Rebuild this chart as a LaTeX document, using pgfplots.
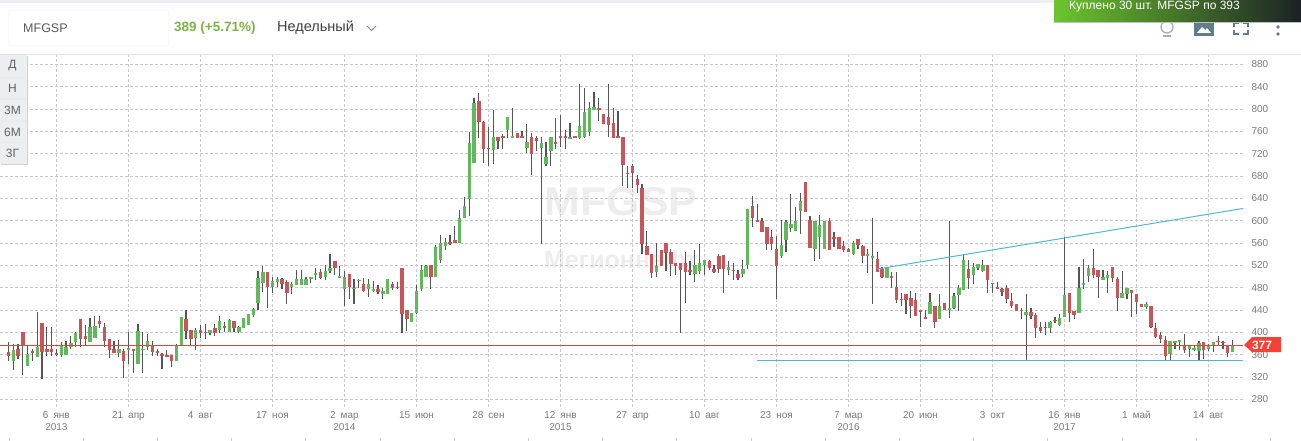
\documentclass[border=0pt]{standalone}
\usepackage{fontspec}
\setmainfont{Liberation Sans}
\usepackage{pgfplots}
\usepackage{pgfplotstable}
\pgfplotsset{compat=1.18}
\definecolor{candlegreen}{HTML}{62B85C}
\definecolor{candlered}{HTML}{C8555A}
\definecolor{wick}{HTML}{555555}
\definecolor{gridgray}{HTML}{C9C9C9}
\definecolor{ticktext}{HTML}{7A7A7A}
\definecolor{trend}{HTML}{58B4CE}
\definecolor{lastline}{HTML}{D9483F}
\definecolor{tag}{HTML}{F44336}
\definecolor{btn}{HTML}{ECEFF1}
\definecolor{icon}{HTML}{607D8B}
\definecolor{gain}{HTML}{7CB342}
\definecolor{toastl}{HTML}{6CC52D}
\definecolor{toastm}{HTML}{5F8A33}
\definecolor{toastr}{HTML}{1C2126}
\newcommand{\fs}[1]{\fontsize{#1}{#1}\selectfont}

% week (0 = 6 jan 2013), body low, body high, wick low, wick high
\pgfplotstableread{
w bl bh wl wh
-9 349 368 333 380
-6 340 362 340 375
-4 356 374 356 436
1 359 376 356 383
2 359 374 359 384
3 373 381 371 393
4 383 399 374 401
7 383 409 383 426
8 390 411 390 429
13 363 370 356 386
15 368 372 343 401
17 343 402 343 415
18 369 371 327 401
19 374 384 368 397
25 349 377 349 379
26 377 427 377 427
29 390 404 368 408
32 399 404 395 404
34 404 420 399 429
36 401 422 401 424
38 401 410 399 411
39 408 426 408 426
40 413 433 413 433
41 431 442 427 444
42 453 497 440 510
43 488 508 472 519
45 481 492 470 499
46 491 496 482 500
49 482 487 469 491
50 485 496 484 512
51 485 496 484 512
52 484 496 484 500
53 496 500 489 500
54 503 507 494 516
56 500 510 494 521
57 510 516 507 541
59 498 501 498 519
60 478 500 448 510
62 478 480 450 496
63 492 494 480 496
65 478 487 464 496
66 475 478 473 492
68 469 475 460 480
69 469 496 469 496
74 419 435 419 435
75 435 475 433 485
76 478 512 475 521
77 500 519 500 521
79 500 553 499 556
80 530 560 525 575
81 555 562 548 569
84 560 605 560 619
85 604 626 604 642
86 639 739 609 759
87 704 810 704 820
91 727 750 702 799
94 763 786 749 786
95 749 752 749 801
98 731 741 722 774
101 731 740 559 750
102 702 715 698 741
103 725 750 698 750
107 747 750 747 775
109 749 770 747 845
110 750 795 749 838
111 759 801 752 813
112 799 804 799 831
125 509 519 500 561
133 505 521 491 548
134 510 525 505 559
135 521 530 503 530
140 512 518 503 527
143 505 514 500 530
144 521 621 514 621
151 537 557 534 602
152 566 598 544 602
153 587 595 580 647
154 582 600 582 625
155 618 636 577 650
158 550 600 528 600
159 571 593 532 611
160 550 600 550 600
166 541 561 539 564
169 537 541 507 550
170 534 536 451 604
173 498 516 498 516
182 433 455 433 471
184 424 448 424 468
186 441 444 426 600
187 444 465 442 471
188 467 480 439 485
189 476 530 476 541
191 503 518 487 525
192 516 523 512 523
193 510 521 509 530
202 432 437 351 469
207 408 419 399 421
209 414 426 412 433
210 428 467 428 571
213 435 480 435 518
214 485 489 478 532
215 501 516 491 521
218 494 500 494 512
219 498 503 471 510
222 462 471 462 510
223 469 480 459 480
227 446 450 442 455
232 361 384 350 384
233 382 384 370 384
234 383 386 368 386
236 370 376 356 376
237 368 372 367 376
238 367 381 350 384
240 370 376 367 379
241 377 383 365 383
245 365 376 365 386
}\greenweeks

\pgfplotstableread{
w bl bh wl wh
-10 358 365 349 382
-8 358 370 352 380
-7 377 401 324 401
-5 363 367 349 370
-3 365 417 316 417
-2 365 370 358 410
-1 365 370 358 410
0 359 363 358 370
5 389 424 374 424
6 388 393 377 413
9 415 420 408 429
10 384 410 374 417
11 368 388 354 388
12 363 370 363 384
14 349 367 318 370
16 368 370 327 370
20 365 377 358 384
21 363 367 358 370
22 358 362 334 364
23 357 359 356 368
24 349 359 338 359
27 402 424 388 440
28 388 404 377 404
30 399 404 390 413
31 399 401 388 415
33 399 408 393 415
35 408 411 401 418
37 408 420 401 420
44 481 508 444 508
47 487 496 478 498
48 471 491 450 494
55 498 509 496 514
58 516 528 503 528
61 482 505 460 505
64 475 487 473 498
67 473 478 469 485
70 480 487 476 491
71 480 482 478 491
72 433 516 399 516
73 424 441 403 441
78 500 521 478 521
82 559 562 556 575
83 560 565 560 591
88 776 814 749 829
89 729 777 704 779
90 729 731 698 768
92 743 750 729 750
93 749 751 729 756
96 749 758 748 758
97 749 751 749 761
99 720 750 681 758
100 743 749 724 752
104 738 741 729 784
105 749 751 732 790
106 749 751 729 763
108 749 751 749 752
113 799 801 779 819
114 774 792 774 792
115 772 786 750 844
116 749 775 749 801
117 749 752 749 797
118 699 750 663 750
119 684 686 659 698
120 686 698 659 702
121 664 675 650 681
122 559 659 541 666
123 539 555 539 582
124 507 541 498 541
126 519 548 519 548
127 543 561 510 561
128 523 544 501 550
129 519 525 503 525
130 512 525 399 525
131 509 525 453 544
132 509 511 503 527
136 516 527 512 530
137 509 514 507 521
138 514 537 507 541
139 514 539 471 539
141 510 512 494 525
142 498 505 494 512
145 604 627 589 645
146 598 602 598 630
147 580 600 579 604
148 559 589 548 589
149 559 571 548 584
150 519 550 459 573
156 616 670 616 670
157 552 602 552 609
161 548 600 548 605
162 568 570 553 579
163 550 570 550 570
164 548 555 544 564
165 544 550 544 552
167 557 568 550 568
168 537 555 525 557
171 509 532 509 544
172 500 514 498 518
174 498 501 480 509
175 458 482 453 509
176 458 460 448 471
177 458 469 433 469
178 448 462 426 475
179 430 458 430 471
180 437 441 410 441
181 424 428 424 441
183 419 448 408 448
185 441 453 440 453
190 498 514 478 530
194 494 521 471 521
195 487 489 471 489
196 478 482 478 491
197 473 478 466 480
198 459 480 453 484
199 448 457 444 471
200 439 450 439 450
201 439 441 424 444
203 430 437 424 444
204 407 432 390 435
205 403 410 399 419
206 408 410 396 419
208 421 423 416 428
211 435 471 419 471
212 432 439 424 439
216 503 516 498 550
217 500 512 462 512
220 498 518 491 518
221 462 496 439 500
224 471 476 428 476
225 455 469 433 469
226 446 451 446 451
228 410 448 408 448
229 392 407 390 416
230 388 396 381 401
231 358 386 350 393
235 368 377 363 397
239 368 383 352 383
242 383 385 377 393
243 381 383 370 384
244 363 377 356 377
}\redweeks

\newcommand{\wicks}[1]{%
  \addplot[draw=none, no markers, forget plot,
    error bars/.cd, y dir=both, y explicit, error mark=none,
    error bar style={draw=wick, line width=1.2pt}]
    table[x=w, y expr=(\thisrow{wh}+\thisrow{wl})/2, y error expr=(\thisrow{wh}-\thisrow{wl})/2] {#1};}
\newcommand{\bodies}[2]{%
  \addplot[draw=none, no markers, forget plot,
    error bars/.cd, y dir=both, y explicit, error mark=none,
    error bar style={draw=#2, line width=3.4pt}]
    table[x=w, y expr=(\thisrow{bh}+\thisrow{bl})/2, y error expr=(\thisrow{bh}-\thisrow{bl})/2] {#1};}

\begin{document}
\begin{tikzpicture}[x=1pt, y=-1pt]
  \useasboundingbox (0,0) rectangle (1301,441);
  \clip (0,0) rectangle (1301,441);
  \fill[white] (0,0) rectangle (1301,441);

  % watermark sits under the candles
  \node[text=black!7, font=\bfseries\fs{40}, inner sep=0, xscale=1.07] at (621,202) {MFGSP};
  \node[text=black!7, font=\bfseries\fs{25}, inner sep=0] at (621,262) {Мегионнефт};

  \begin{axis}[
    at={(0pt,-407pt)}, anchor=south west,
    scale only axis, width=1245pt, height=352pt,
    xmin=-11.75, xmax=247.6, ymin=266.4, ymax=896.8,
    axis line style={draw=none},
    major tick length=0pt,
    grid=major,
    grid style={draw=gridgray, line width=0.8pt, dash pattern=on 3pt off 2pt},
    xtick={0,15,...,240},
    xticklabels={{6\enspace янв\\2013},{21\enspace апр},{4\enspace авг},{17\enspace ноя},
      {2\enspace мар\\2014},{15\enspace июн},{28\enspace сен},
      {12\enspace янв\\2015},{27\enspace апр},{10\enspace авг},{23\enspace ноя},
      {7\enspace мар\\2016},{20\enspace июн},{3\enspace окт},
      {16\enspace янв\\2017},{1\enspace май},{14\enspace авг}},
    xticklabel style={align=center, font=\fontsize{10}{12}\selectfont, text=ticktext, anchor=north, yshift=-1pt},
    ytick={280,320,...,880},
    yticklabel pos=right,
    yticklabel style={anchor=west, font=\fs{10}, text=ticktext, xshift=3pt},
    /pgf/number format/assume math mode=true,
  ]
    \wicks{\greenweeks}
    \wicks{\redweeks}
    \bodies{\greenweeks}{candlegreen}
    \bodies{\redweeks}{candlered}
    \addplot[trend, line width=1pt, forget plot] coordinates {(171,513.5) (247.2,622)};
    \addplot[trend, line width=1pt, forget plot] coordinates {(146,350) (247.2,350)};
    \addplot[lastline, line width=1pt, forget plot] coordinates {(-11.75,377) (247.2,377)};
  \end{axis}

  % screen furniture around the chart
  \fill[btn] (0,0) rectangle (1301,3);
  \draw[black!12, line width=0.8pt] (0,54.5) -- (1301,54.5);
  \draw[black!7, rounded corners=1pt] (8.5,10.5) rectangle (168.5,45.5);
  \node[anchor=west, inner sep=0, text=black!65, font=\fs{12.5}] at (23,28) {MFGSP};
  \node[anchor=west, inner sep=0, text=gain, font=\bfseries\fs{13.5}] at (174,28) {389 (+5.71\%)};
  \node[anchor=west, inner sep=0, text=black!75, font=\fs{14.5}] at (277,28) {Недельный};
  \draw[black!50, line width=0.9pt] (367,26) -- (371.5,30.5) -- (376,26);

  \fill[black!18] (1,56) rectangle (28,165);
  \fill[black!8] (0,55) rectangle (27,164);
  \foreach \t/\a/\b in {Д/55/77, Н/78/98, 3М/100/120, 6М/122/142, 3Г/143/164} {
    \fill[btn] (0,\a) rectangle (27,\b);
    \node[text=black!62, font=\fs{12}, inner sep=0] at (12.5,{(\a+\b)/2}) {\t};
  }

  \fill[tag] (1244,345) -- (1252,337) -- (1281,337) -- (1281,352) -- (1252,352) -- cycle;
  \node[text=white, font=\bfseries\fs{12}, inner sep=0] at (1262,345) {377};

  \foreach \k in {0,...,17} \draw[black!20, line width=0.8pt] ({9+74.2*\k},438) -- ({9+74.2*\k},441);

  % toolbar icons
  \draw[icon!60, line width=1.3pt] (1167,27) circle (6);
  \draw[icon!60, line width=1.3pt] (1163,36) -- (1171,36);
  \fill[icon] (1194,18) rectangle (1214,36);
  \fill[white] (1197,33) -- (1202,27) -- (1205,30) -- (1207,28) -- (1211,33) -- cycle;
  \draw[icon, line width=1.3pt] (1234,27) -- (1234,23) -- (1239,23) (1243,23) -- (1248,23) -- (1248,27)
    (1234,30) -- (1234,34) -- (1239,34) (1243,34) -- (1248,34) -- (1248,30);
  \foreach \y in {20,27,34} \fill[icon] (1278,\y) circle (1.8);

  % notification
  \fill[black!25] (1054,20) rectangle (1301,23);
  \shade[left color=toastl, middle color=toastm, right color=toastr] (1054,0) rectangle (1301,22);
  \node[anchor=west, inner sep=0, text=white, font=\fs{12}] at (1069,7) {Куплено 30 шт. MFGSP по 393};
\end{tikzpicture}
\end{document}
